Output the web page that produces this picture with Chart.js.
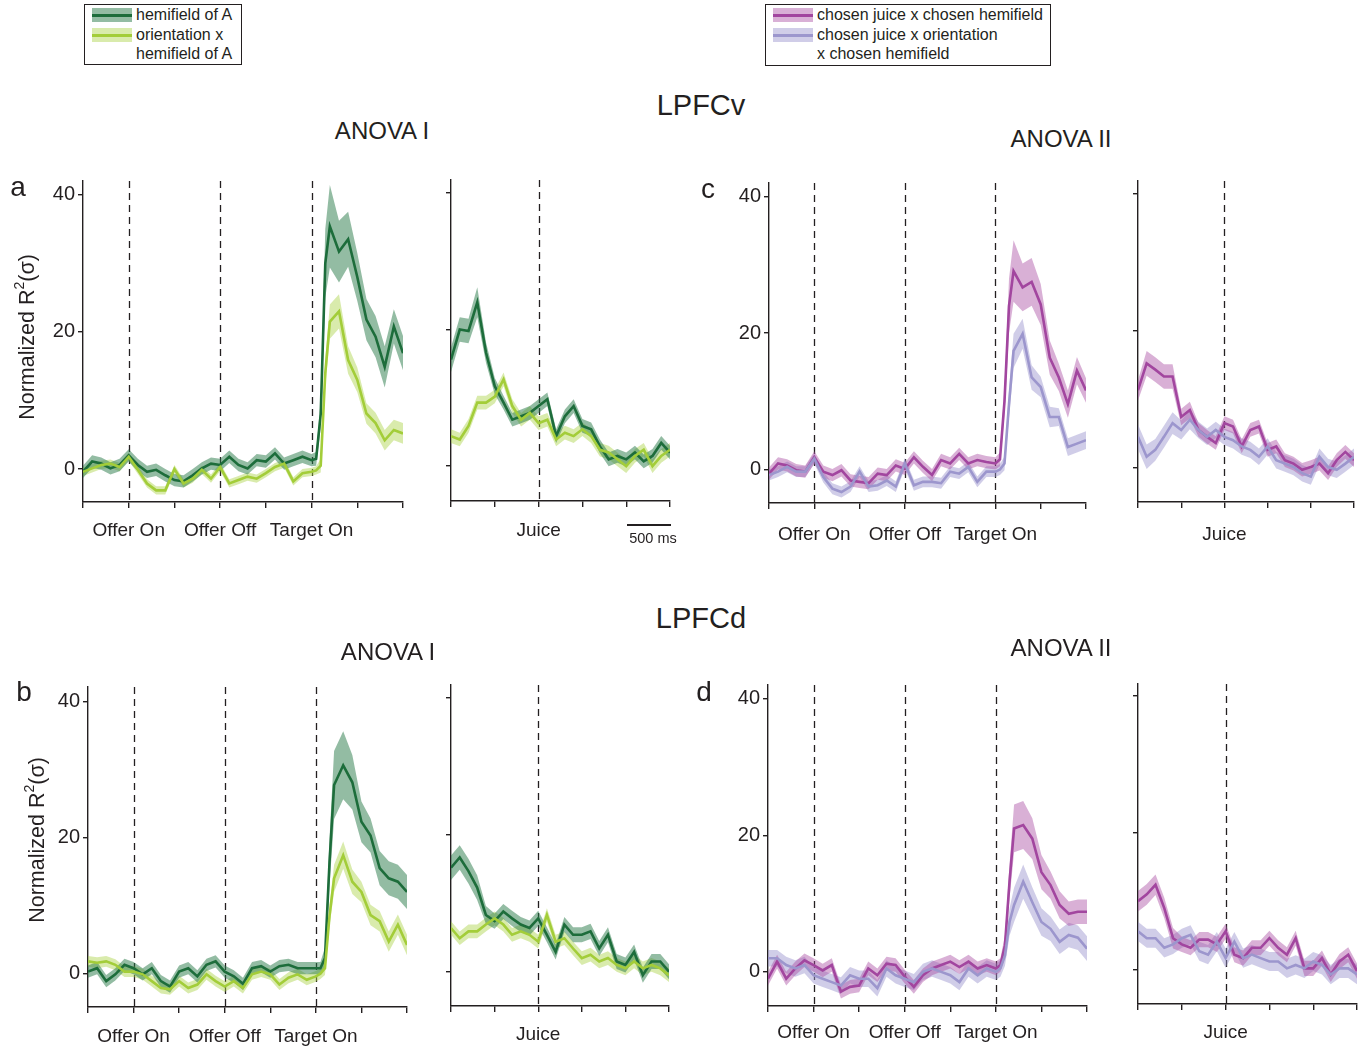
<!DOCTYPE html>
<html>
<head>
<meta charset="utf-8">
<script src="https://cdn.jsdelivr.net/npm/chart.js@4.4.1/dist/chart.umd.min.js"></script>
<style>
  html, body { margin: 0; padding: 0; background: #fff; }
  #fig { position: relative; width: 1362px; height: 1049px; font-family: Arial, "Liberation Sans", sans-serif; color: #231f20; }
  #fig canvas { position: absolute; }
  .t { position: absolute; white-space: nowrap; transform: translate(-50%, -50%); line-height: 1; }
  .l { position: absolute; white-space: nowrap; transform: translateY(-50%); line-height: 1; font-size: 16px; }
  .box { position: absolute; border: 1.5px solid #231f20; box-sizing: border-box; }
  .sw { position: absolute; width: 40px; height: 14px; }
  .sw i { position: absolute; left: 0; right: 0; top: 5.5px; height: 3px; }
</style>
</head>
<body>
<div id="fig"></div>
<script>
  "use strict";

  // time axes (ms); left epoch aligned on offer on (finer around target on), right epoch on juice
  var tLeft = [-500, -400, -300, -200, -100, 0, 100, 200, 300, 400, 500, 600, 700, 800, 900, 1000, 1100, 1200,
    1300, 1400, 1500, 1600, 1700, 1800, 1900, 2000, 2050, 2100, 2150, 2200, 2300, 2400, 2500, 2600, 2700, 2800,
    2900, 3000];
  var tRight = [-1000, -900, -800, -700, -600, -500, -400, -300, -200, -100, 0, 100, 200, 300, 400, 500, 600,
    700, 800, 900, 1000, 1100, 1200, 1300, 1400, 1500];
  var eventsLeft = [0, 1000, 2000];
  var eventNamesLeft = ['Offer On', 'Offer Off', 'Target On'];
  var eventsRight = [0];
  var eventNamesRight = ['Juice'];
  var yTicks = [0, 20, 40];

  // a: LPFCv, ANOVA I
  var aL_dark = [-0.4, 1.1, 0.8, 0.1, 0.6, 2.0, 0.6, -0.4, -0.1, -0.9, -1.6, -1.8, -0.9, 0.1, 0.8, 0.6, 1.8, 0.6,
    0.1, 1.3, 1.1, 2.3, 0.8, 1.3, 1.8, 1.3, 1.5, 8, 30, 35.4, 31.7, 33.5, 28, 21.8, 19.3, 14.9, 20.8, 16.9];
  var aL_darkSem = [0.9, 0.9, 0.9, 0.9, 0.9, 0.9, 0.9, 0.9, 0.9, 0.9, 0.9, 0.9, 0.9, 0.9, 0.9, 0.9, 0.9, 0.9,
    0.9, 0.9, 0.9, 0.9, 0.9, 0.9, 0.9, 0.9, 1, 2, 5, 6, 4.5, 4, 3.5, 3, 3, 3, 2.5, 2.5];
  var aL_light = [-0.4, 0.1, 0.6, 0.8, 0.3, 1.8, -0.1, -2.1, -3.1, -3.1, 0, -2.1, -1.4, -0.1, -1.4, 0.3, -2.1, -1.6,
    -1.1, -1.4, -0.6, 0.3, 0.8, -1.8, -0.6, -0.4, -0.2, 0.5, 14, 21.5, 23, 15.9, 13, 8.1, 6.7, 4.2, 5.7, 5.2];
  var aL_lightSem = [0.6, 0.6, 0.6, 0.6, 0.6, 0.6, 0.6, 0.6, 0.6, 0.6, 0.6, 0.6, 0.6, 0.6, 0.6, 0.6, 0.6, 0.6,
    0.6, 0.6, 0.6, 0.6, 0.6, 0.6, 0.6, 0.6, 0.6, 1, 2, 2.5, 2.5, 2, 1.8, 1.5, 1.5, 1.5, 1.5, 1.5];
  var aR_dark = [15.6, 20, 19.8, 24, 16.6, 11.7, 9.3, 6.8, 7.3, 7.8, 8.8, 9.8, 4.4, 7.3, 8.8, 5.9, 5.4, 2.9,
    1.0, 1.5, 1.0, 2.0, 0.7, 1.5, 3.4, 2.0];
  var aR_darkSem = [1.8, 1.8, 1.8, 2.2, 1.5, 1.2, 1.0, 1.0, 1.0, 1.0, 1.0, 1.0, 1.0, 1.0, 1.0, 1.0, 1.0, 1.0,
    1.0, 1.0, 1.0, 1.0, 1.0, 1.0, 1.0, 1.0];
  var aR_light = [4.4, 3.9, 5.9, 9.3, 9.3, 10.2, 12.7, 8.8, 6.8, 7.8, 6.3, 6.8, 3.9, 4.9, 4.4, 5.4, 4.4, 2.4,
    2.0, 1.0, 0, 1.5, 2.4, 0, 1.5, 2.4];
  var aR_lightSem = [1.0, 1.0, 1.0, 1.0, 1.0, 1.0, 1.0, 1.0, 1.0, 1.0, 1.0, 1.0, 1.0, 1.0, 1.0, 1.0, 1.0, 1.0,
    1.0, 1.0, 1.0, 1.0, 1.0, 1.0, 1.0, 1.0];

  // c: LPFCv, ANOVA II
  var cL_mag = [-0.6, 0.9, 0.6, -0.1, -0.3, 1.8, -0.3, -0.8, -0.1, -1.6, -1.8, -2.0, -0.6, -0.8, 0.6, 0.1, 1.8, 0.4,
    -0.8, 1.4, 0.9, 2.3, 0.9, 1.4, 1.1, 0.9, 1.5, 10, 24, 29.1, 26.7, 27.5, 24.2, 16.4, 13.5, 9.6, 14.5, 11.6];
  var cL_magSem = [0.9, 0.9, 0.9, 0.9, 0.9, 0.9, 0.9, 0.9, 0.9, 0.9, 0.9, 0.9, 0.9, 0.9, 0.9, 0.9, 0.9, 0.9,
    0.9, 0.9, 0.9, 0.9, 0.9, 0.9, 0.9, 0.9, 1, 2, 4, 4.5, 3.5, 3.5, 3, 2.5, 2, 2, 2, 1.8];
  var cL_lav = [-0.8, -0.3, 0.4, -0.3, -0.3, 1.6, -1.1, -2.8, -3.3, -2.5, -0.3, -2.5, -2.3, -1.6, -2.5, 0.9, -2.3, -1.8,
    -1.8, -2.0, -0.3, -0.6, 0.4, -1.8, -0.3, -0.3, 0, 0.9, 9.6, 17.4, 19.9, 13.5, 12.1, 7.7, 7.7, 3.3, 3.8, 4.3];
  var cL_lavSem = [0.8, 0.8, 0.8, 0.8, 0.8, 0.8, 0.8, 0.8, 0.8, 0.8, 0.8, 0.8, 0.8, 0.8, 0.8, 0.8, 0.8, 0.8,
    0.8, 0.8, 0.8, 0.8, 0.8, 0.8, 0.8, 0.8, 0.8, 1, 2, 2.5, 2.2, 1.8, 1.5, 1.5, 1.3, 1.3, 1.3, 1.3];
  var cR_mag = [11.3, 15.2, 14.3, 13.3, 13.3, 7.4, 8.4, 5.5, 4.5, 3.6, 6.5, 6.0, 3.1, 5.5, 6.0, 2.6, 3.1, 1.1,
    0.6, -0.3, 0.1, 0.6, -0.8, 1.1, 2.3, 1.1];
  var cR_magSem = [1.5, 1.8, 1.8, 1.8, 1.8, 1.2, 1.2, 1.0, 1.0, 1.0, 1.0, 1.0, 1.0, 1.0, 1.0, 1.0, 1.0, 1.0,
    1.0, 1.0, 1.0, 1.0, 1.0, 1.0, 1.0, 1.0];
  var cR_lav = [4.5, 1.6, 2.6, 4.5, 6.5, 5.5, 7.0, 5.5, 4.5, 5.5, 4.5, 4.0, 3.1, 2.6, 1.6, 3.1, 1.1, 0.6,
    0.1, -0.8, -1.3, 1.6, 0.1, -0.3, 0.6, 1.6];
  var cR_lavSem = [1.8, 1.8, 1.6, 1.6, 1.6, 1.4, 1.4, 1.2, 1.2, 1.2, 1.2, 1.2, 1.2, 1.2, 1.2, 1.2, 1.2, 1.2,
    1.2, 1.2, 1.2, 1.2, 1.2, 1.2, 1.2, 1.2];

  // b: LPFCd, ANOVA I
  var bL_dark = [0.3, 0.8, -1.1, -0.1, 1.3, 0.8, -0.1, 0.8, -1.1, -1.9, 0.3, 0.8, -0.4, 1.3, 1.8, 0.3, -0.4, -1.5,
    0.8, 1.1, 0.3, 1.1, 1.3, 0.8, 0.8, 0.8, 0.8, 2.3, 16.4, 27.7, 30.6, 28.1, 22.3, 20.3, 15.5, 14.0, 13.5, 12.0];
  var bL_darkSem = [0.9, 0.9, 0.9, 0.9, 0.9, 0.9, 0.9, 0.9, 0.9, 0.9, 0.9, 0.9, 0.9, 0.9, 0.9, 0.9, 0.9, 0.9,
    0.9, 0.9, 0.9, 0.9, 0.9, 0.9, 0.9, 0.9, 0.9, 1.5, 3.5, 5, 5, 4, 3, 2.5, 2.5, 2.5, 2.5, 2.5];
  var bL_light = [1.8, 1.6, 1.8, 1.3, 0.3, 0.3, -0.1, -1.1, -2.1, -2.3, -1.1, -2.1, -1.6, -0.1, -1.1, -1.9, -1.1, -2.1,
    -0.1, 0.3, -0.1, -1.6, -0.6, -0.1, -0.9, -0.4, 0, 0.8, 8.5, 14.0, 17.4, 13.5, 12.0, 8.6, 7.7, 4.7, 7.2, 4.2];
  var bL_lightSem = [0.8, 0.8, 0.8, 0.8, 0.8, 0.8, 0.8, 0.8, 0.8, 0.8, 0.8, 0.8, 0.8, 0.8, 0.8, 0.8, 0.8, 0.8,
    0.8, 0.8, 0.8, 0.8, 0.8, 0.8, 0.8, 0.8, 0.8, 1, 1.5, 2, 2, 1.8, 1.5, 1.5, 1.5, 1.5, 1.5, 1.5];
  var bR_dark = [15.2, 16.7, 14.7, 12.3, 8.3, 7.4, 8.8, 7.8, 6.9, 6.4, 7.8, 5.4, 2.9, 6.9, 5.4, 5.4, 5.9, 3.4,
    5.4, 1.5, 1.0, 2.9, -0.5, 1.5, 1.5, 0];
  var bR_darkSem = [1.8, 1.8, 1.8, 1.8, 1.3, 1.1, 1.1, 1.1, 1.1, 1.1, 1.1, 1.1, 1.1, 1.1, 1.1, 1.1, 1.1, 1.1,
    1.1, 1.1, 1.1, 1.1, 1.1, 1.1, 1.1, 1.1];
  var bR_light = [6.4, 4.9, 5.9, 5.9, 6.9, 7.8, 6.9, 5.4, 5.9, 5.4, 4.4, 8.3, 4.4, 4.9, 3.4, 2.0, 2.5, 1.5,
    2.0, 1.0, 0.5, 1.5, 0.5, 1.0, 0.5, -0.5];
  var bR_lightSem = [1.0, 1.0, 1.0, 1.0, 1.0, 1.0, 1.0, 1.0, 1.0, 1.0, 1.0, 1.0, 1.0, 1.0, 1.0, 1.0, 1.0, 1.0,
    1.0, 1.0, 1.0, 1.0, 1.0, 1.0, 1.0, 1.0];

  // d: LPFCd, ANOVA II
  var dL_mag = [-1.0, 1.5, -1.0, 0.5, 1.7, 1.0, 0.2, 1.0, -2.9, -2.2, -2.0, 0.5, -0.5, 1.2, 1.0, -0.7, -2.2, -0.5,
    0.5, 1.0, 1.5, 0.7, 1.5, 0.5, 1.0, 0.5, 1.0, 3.9, 13.2, 21.0, 21.5, 19.5, 14.6, 12.7, 9.8, 8.5, 8.8, 8.8];
  var dL_magSem = [1.0, 1.0, 1.0, 1.0, 1.0, 1.0, 1.0, 1.0, 1.0, 1.0, 1.0, 1.0, 1.0, 1.0, 1.0, 1.0, 1.0, 1.0,
    1.0, 1.0, 1.0, 1.0, 1.0, 1.0, 1.0, 1.0, 1.0, 1.5, 2.5, 3.5, 3.5, 3, 2.5, 2, 2, 1.8, 1.8, 1.8];
  var dL_lav = [2.0, 2.0, 1.0, 0.5, 1.0, -0.5, -1.0, -1.5, -2.0, -0.5, -1.0, -1.0, -2.4, 0.5, -0.5, -1.0, -1.5, 0,
    0.5, 0, -0.5, -1.5, 0.5, -0.5, 0.5, 0, 0.5, 2.4, 7.3, 9.8, 13.2, 10.2, 7.3, 6.3, 4.4, 5.4, 5.0, 3.4];
  var dL_lavSem = [1.2, 1.2, 1.2, 1.2, 1.2, 1.2, 1.2, 1.2, 1.2, 1.2, 1.2, 1.2, 1.2, 1.2, 1.2, 1.2, 1.2, 1.2,
    1.2, 1.2, 1.2, 1.2, 1.2, 1.2, 1.2, 1.2, 1.2, 1.5, 2, 2.5, 2.5, 2.2, 2, 1.8, 1.8, 1.8, 1.8, 1.8];
  var dR_mag = [10.0, 11.0, 12.4, 9.0, 4.6, 3.7, 3.2, 4.4, 4.4, 3.7, 5.6, 2.2, 1.7, 3.2, 3.2, 4.6, 3.2, 2.2,
    4.6, 0.2, 0.2, 1.7, -0.7, 1.2, 2.2, -0.2];
  var dR_magSem = [1.5, 1.5, 1.5, 1.5, 1.5, 1.1, 1.1, 1.1, 1.1, 1.1, 1.1, 1.1, 1.1, 1.1, 1.1, 1.1, 1.1, 1.1,
    1.1, 1.1, 1.1, 1.1, 1.1, 1.1, 1.1, 1.1];
  var dR_lav = [5.6, 4.6, 4.6, 3.2, 3.7, 4.6, 5.1, 2.7, 2.2, 4.1, 1.7, 4.1, 1.7, 2.2, 1.7, 1.2, 1.2, 0.2,
    0.7, 0.2, 1.2, 0.7, -0.7, 0.2, 0.2, -0.7];
  var dR_lavSem = [1.4, 1.4, 1.4, 1.4, 1.4, 1.4, 1.4, 1.4, 1.4, 1.4, 1.4, 1.4, 1.4, 1.4, 1.4, 1.4, 1.4, 1.4,
    1.4, 1.4, 1.4, 1.4, 1.4, 1.4, 1.4, 1.4];

  var INK = '#231f20';
  var FONT = 'Arial, "Liberation Sans", sans-serif';
  var GREEN_D = { line: '#1d6d3b', band: 'rgba(40,122,72,0.5)' };
  var GREEN_L = { line: '#a3cd39', band: 'rgba(170,210,70,0.45)' };
  var MAGENTA = { line: '#a2469f', band: 'rgba(170,80,165,0.45)' };
  var LAVENDER = { line: '#9c96cd', band: 'rgba(150,145,205,0.45)' };

  var fig = document.getElementById('fig');

  // dashed event markers
  var eventLines = {
    id: 'eventLines',
    beforeDatasetsDraw: function (chart, args, opts) {
      var ctx = chart.ctx, area = chart.chartArea, xs = chart.scales.x;
      ctx.save();
      ctx.strokeStyle = INK;
      ctx.lineWidth = 1.3;
      ctx.setLineDash([7, 5]);
      (opts.at || []).forEach(function (v) {
        var px = Math.round(xs.getPixelForValue(v)) + 0.5;
        ctx.beginPath();
        ctx.moveTo(px, area.top);
        ctx.lineTo(px, area.bottom);
        ctx.stroke();
      });
      ctx.restore();
    }
  };

  function panel(p) {
    var leftSpace = p.yLabels ? 70 : 20, topPad = 25, rightPad = 12, bottomSpace = 50;
    var cv = document.createElement('canvas');
    cv.width = leftSpace + (p.right - p.left) + rightPad;
    cv.height = topPad + (p.bottom - p.top) + bottomSpace;
    cv.style.left = (p.left - leftSpace) + 'px';
    cv.style.top = (p.top - topPad) + 'px';
    fig.appendChild(cv);

    var means = [], bands = [];
    p.series.forEach(function (s) {
      var mean = s.v.map(function (v, i) { return { x: p.t[i], y: v }; });
      var hi = s.v.map(function (v, i) { return { x: p.t[i], y: v + s.e[i] }; });
      var lo = s.v.map(function (v, i) { return { x: p.t[i], y: v - s.e[i] }; });
      means.push({ data: mean, borderColor: s.c.line, borderWidth: 2.6, pointRadius: 0, fill: false, tension: 0 });
      bands.push({ data: hi, borderWidth: 0, pointRadius: 0, backgroundColor: s.c.band, fill: '+1', tension: 0 });
      bands.push({ data: lo, borderWidth: 0, pointRadius: 0, fill: false, tension: 0 });
    });
    // means first so they are drawn last (on top)
    var datasets = means.reverse().concat(bands);

    new Chart(cv.getContext('2d'), {
      type: 'line',
      data: { datasets: datasets },
      options: {
        responsive: false,
        animation: false,
        layout: { padding: { left: 0, top: topPad, right: rightPad, bottom: 0 } },
        plugins: {
          legend: { display: false },
          tooltip: { enabled: false },
          filler: { propagate: false },
          eventLines: { at: p.events }
        },
        scales: {
          x: {
            type: 'linear', min: p.t[0], max: p.t[p.t.length - 1],
            border: { color: INK, width: 1.4 },
            grid: { drawOnChartArea: false, drawTicks: true, tickLength: 6, color: INK, lineWidth: 1.4 },
            ticks: {
              stepSize: 500, autoSkip: false, maxRotation: 0, includeBounds: false, padding: p.pad, color: INK,
              font: { size: 19, family: FONT },
              callback: function (v) {
                var k = p.events.indexOf(v);
                return k >= 0 ? p.names[k] : '';
              }
            },
            afterFit: function (s) { s.height = bottomSpace; }
          },
          y: {
            min: p.ymin, max: p.ymax,
            border: { color: INK, width: 1.4 },
            grid: { drawOnChartArea: false, drawTicks: true, tickLength: 5, color: INK, lineWidth: 1.4 },
            afterBuildTicks: function (s) { s.ticks = yTicks.map(function (v) { return { value: v }; }); },
            ticks: {
              padding: 3, color: INK, font: { size: 20, family: FONT },
              callback: function (v) { return p.yLabels ? String(v) : ''; }
            },
            afterFit: function (s) { s.width = leftSpace; }
          }
        }
      },
      plugins: [eventLines]
    });
  }

  [
    { left: 83, right: 403, top: 181, bottom: 502, ymin: -4.8, ymax: 42.0, yLabels: true, pad: 11, t: tLeft,
      events: eventsLeft, names: eventNamesLeft,
      series: [{ v: aL_dark, e: aL_darkSem, c: GREEN_D }, { v: aL_light, e: aL_lightSem, c: GREEN_L }] },
    { left: 451, right: 670, top: 180, bottom: 501, ymin: -5.1, ymax: 41.9, yLabels: false, pad: 12, t: tRight,
      events: eventsRight, names: eventNamesRight,
      series: [{ v: aR_dark, e: aR_darkSem, c: GREEN_D }, { v: aR_light, e: aR_lightSem, c: GREEN_L }] },
    { left: 769, right: 1088, top: 183, bottom: 503, ymin: -4.9, ymax: 42.0, yLabels: true, pad: 14, t: tLeft,
      events: eventsLeft, names: eventNamesLeft,
      series: [{ v: cL_mag, e: cL_magSem, c: MAGENTA }, { v: cL_lav, e: cL_lavSem, c: LAVENDER }] },
    { left: 1138, right: 1357, top: 181, bottom: 502, ymin: -5.0, ymax: 41.8, yLabels: false, pad: 15, t: tRight,
      events: eventsRight, names: eventNamesRight,
      series: [{ v: cR_mag, e: cR_magSem, c: MAGENTA }, { v: cR_lav, e: cR_lavSem, c: LAVENDER }] },
    { left: 88, right: 407, top: 687, bottom: 1007, ymin: -4.9, ymax: 42.1, yLabels: true, pad: 12, t: tLeft,
      events: eventsLeft, names: eventNamesLeft,
      series: [{ v: bL_dark, e: bL_darkSem, c: GREEN_D }, { v: bL_light, e: bL_lightSem, c: GREEN_L }] },
    { left: 451, right: 669, top: 685, bottom: 1006, ymin: -5.0, ymax: 41.9, yLabels: false, pad: 11, t: tRight,
      events: eventsRight, names: eventNamesRight,
      series: [{ v: bR_dark, e: bR_darkSem, c: GREEN_D }, { v: bR_light, e: bR_lightSem, c: GREEN_L }] },
    { left: 768, right: 1087, top: 685, bottom: 1006, ymin: -5.0, ymax: 42.0, yLabels: true, pad: 9, t: tLeft,
      events: eventsLeft, names: eventNamesLeft,
      series: [{ v: dL_mag, e: dL_magSem, c: MAGENTA }, { v: dL_lav, e: dL_lavSem, c: LAVENDER }] },
    { left: 1138, right: 1357, top: 684, bottom: 1004, ymin: -5.0, ymax: 41.7, yLabels: false, pad: 11, t: tRight,
      events: eventsRight, names: eventNamesRight,
      series: [{ v: dR_mag, e: dR_magSem, c: MAGENTA }, { v: dR_lav, e: dR_lavSem, c: LAVENDER }] }
  ].forEach(panel);

  // titles, panel letters, axis titles
  function text(str, x, y, size, extra) {
    var d = document.createElement('div');
    d.className = 't';
    d.style.left = x + 'px';
    d.style.top = y + 'px';
    d.style.fontSize = size + 'px';
    if (extra) d.style.transform = extra;
    d.innerHTML = str;
    fig.appendChild(d);
  }
  text('LPFCv', 701, 105, 29);
  text('ANOVA I', 382, 131, 24);
  text('ANOVA II', 1061, 139, 24);
  text('LPFCd', 701, 618, 29);
  text('ANOVA I', 388, 652, 24);
  text('ANOVA II', 1061, 648, 24);
  text('a', 18, 187, 28);
  text('c', 708, 189, 28);
  text('b', 24, 692, 28);
  text('d', 704, 692, 28);
  var yTitle = 'Normalized R<sup style="font-size:14px;vertical-align:10px">2</sup>(σ)';
  text(yTitle, 25, 337, 21.5, 'translate(-50%,-50%) rotate(-90deg)');
  text(yTitle, 35, 840, 21.5, 'translate(-50%,-50%) rotate(-90deg)');

  // 500 ms scale bar
  var bar = document.createElement('div');
  bar.style.cssText = 'position:absolute;left:627px;top:524px;width:44px;height:2px;background:' + INK;
  fig.appendChild(bar);
  text('500 ms', 653, 538, 14.5);

  // legends
  function legend(x, y, w, h, entries, lines) {
    var b = document.createElement('div');
    b.className = 'box';
    b.style.cssText += 'left:' + x + 'px;top:' + y + 'px;width:' + w + 'px;height:' + h + 'px';
    fig.appendChild(b);
    entries.forEach(function (c, i) {
      var s = document.createElement('div');
      s.className = 'sw';
      s.style.left = (x + 8) + 'px';
      s.style.top = (y + 4 + i * 20) + 'px';
      s.style.background = c.band;
      s.innerHTML = '<i style="background:' + c.line + '"></i>';
      fig.appendChild(s);
    });
    lines.forEach(function (str, i) {
      var l = document.createElement('div');
      l.className = 'l';
      l.style.left = (x + 52) + 'px';
      l.style.top = (y + 11 + i * 19.5) + 'px';
      l.textContent = str;
      fig.appendChild(l);
    });
  }
  legend(84, 4, 158, 61, [GREEN_D, GREEN_L], ['hemifield of A', 'orientation x', 'hemifield of A']);
  legend(765, 4, 286, 62, [MAGENTA, LAVENDER], ['chosen juice x chosen hemifield', 'chosen juice x orientation', 'x chosen hemifield']);
</script>
</body>
</html>
